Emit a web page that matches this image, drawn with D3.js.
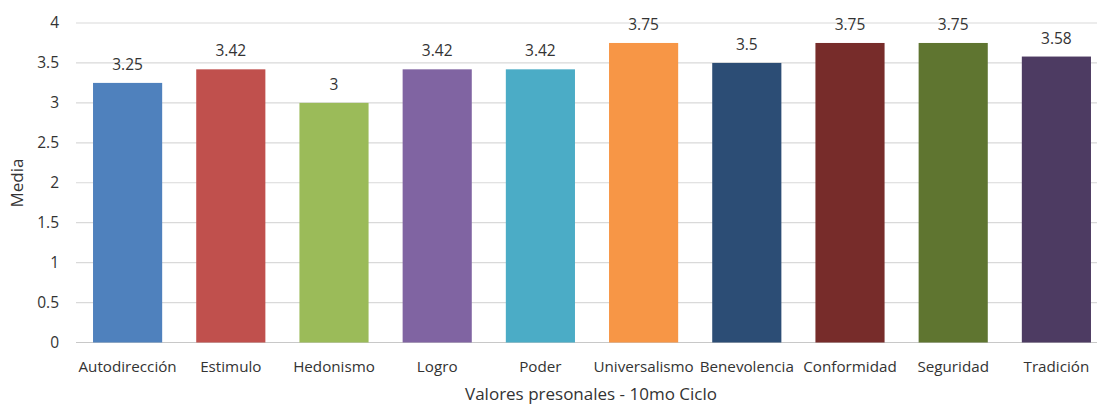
<!DOCTYPE html>
<html><head><meta charset="utf-8">
<script src="https://cdn.jsdelivr.net/npm/d3@7"></script>
<style>body{margin:0;background:#fff}svg{display:block}</style>
</head><body>
<svg id="c" width="1097" height="405"></svg>
<script>
const categories = ["Autodirección","Estimulo","Hedonismo","Logro","Poder","Universalismo","Benevolencia","Conformidad","Seguridad","Tradición"];
const values = [3.25,3.42,3,3.42,3.42,3.75,3.5,3.75,3.75,3.58];
const labels = ["3.25","3.42","3","3.42","3.42","3.75","3.5","3.75","3.75","3.58"];
const colors = ["#4F81BD","#C0504D","#9BBB59","#8064A2","#4BACC6","#F79646","#2C4D75","#772C2A","#5F7530","#4D3B62"];
const yTicks = [0,0.5,1,1.5,2,2.5,3,3.5,4];
const xTitle = "Valores presonales - 10mo Ciclo";
const yTitle = "Media";

const svg = d3.select("#c");
const font = "'Open Sans', 'Noto Sans', sans-serif";
const txt = "#333333";
const x = d3.scaleBand().domain(categories).range([76,1108]).paddingInner(0.33).paddingOuter(0.165);
const y = d3.scaleLinear().domain([0,4]).range([342.5,23]);

svg.append("g").selectAll("line").data(yTicks).join("line")
  .attr("x1",76).attr("x2",1097)
  .attr("y1",d=>y(d)).attr("y2",d=>y(d))
  .attr("stroke",d=>d===0?"#c8c8c8":"#d9d9d9").attr("stroke-width",1.2);

svg.append("g").selectAll("text").data(yTicks).join("text")
  .attr("x",59).attr("y",d=>y(d)).attr("dy","0.35em")
  .attr("text-anchor","end").attr("font-family",font).attr("font-size",15.5).attr("fill",txt)
  .text(d=>String(d));

svg.append("g").selectAll("rect").data(categories).join("rect")
  .attr("x",d=>x(d)).attr("width",x.bandwidth())
  .attr("y",(d,i)=>y(values[i])).attr("height",(d,i)=>y(0)-y(values[i]))
  .attr("fill",(d,i)=>colors[i]);

svg.append("g").selectAll("text").data(categories).join("text")
  .attr("x",d=>x(d)+x.bandwidth()/2).attr("y",(d,i)=>y(values[i])-13)
  .attr("text-anchor","middle").attr("font-family",font).attr("font-size",15.5).attr("fill",txt)
  .text((d,i)=>labels[i]);

svg.append("g").selectAll("text").data(categories).join("text")
  .attr("x",d=>x(d)+x.bandwidth()/2).attr("y",372)
  .attr("text-anchor","middle").attr("font-family",font).attr("font-size",15.2).attr("fill",txt)
  .text(d=>d);

svg.append("text").attr("x",591).attr("y",400).attr("text-anchor","middle")
  .attr("font-family",font).attr("font-size",17).attr("fill",txt).text(xTitle);
svg.append("text").attr("transform","translate(23,183) rotate(-90)").attr("text-anchor","middle")
  .attr("font-family",font).attr("font-size",17).attr("fill",txt).text(yTitle);
</script>
</body></html>
